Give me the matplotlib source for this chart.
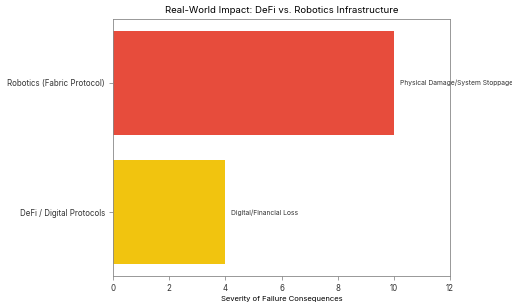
import matplotlib
matplotlib.use("Agg")
import matplotlib.pyplot as plt

plt.rcParams['font.family'] = ['Inter', 'DejaVu Sans']

# ==== Data ====
categories = ["DeFi / Digital Protocols", "Robotics (Fabric Protocol)"]
severity = [4, 10]
impact_labels = ["Digital/Financial Loss", "Physical Damage/System Stoppage"]
colors = ["#F1C40F", "#E74C3C"]

# ==== Plot ====
fig = plt.figure(figsize=(5.12, 3.07), dpi=100)
ax = fig.add_axes([0.221, 0.101, 0.658, 0.837])

ax.barh(categories, severity, color=colors, height=0.8)
for i, (val, lab) in enumerate(zip(severity, impact_labels)):
    ax.text(val + 0.2, i, lab, va="center", ha="left", fontsize=4.8, color="#333333")

ax.set_xlim(0, 12)
ax.set_xticks(range(0, 13, 2))
ax.set_title("Real-World Impact: DeFi vs. Robotics Infrastructure", fontsize=6.9, pad=4)
ax.set_xlabel("Severity of Failure Consequences", fontsize=5.5, labelpad=2)
ax.tick_params(labelsize=5.7, length=3, width=0.5, color="#777777", labelcolor="#333333", pad=3)
for s in ax.spines.values():
    s.set_color("#888888")
    s.set_linewidth(0.6)

fig.savefig("out.png", dpi=100)
